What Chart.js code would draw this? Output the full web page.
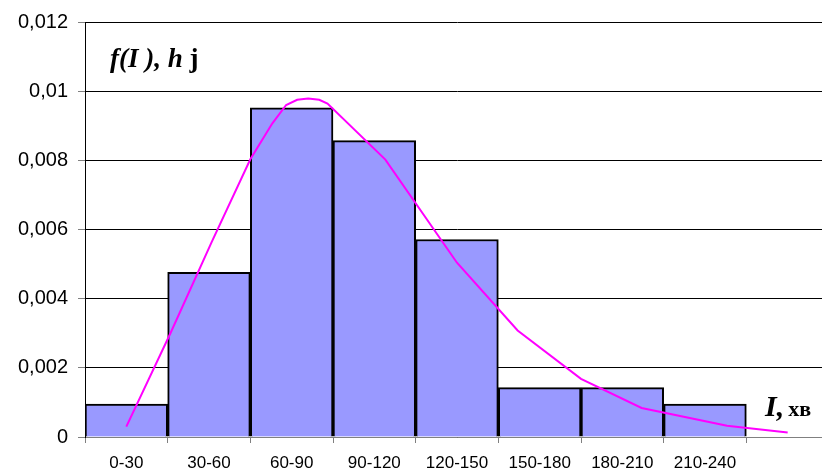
<!DOCTYPE html>
<html><head><meta charset="utf-8">
<script src="https://cdn.jsdelivr.net/npm/chart.js@4.4.0/dist/chart.umd.min.js"></script>
<style>
html,body{margin:0;padding:0;background:#fff;overflow:hidden;width:822px;height:474px}
#wrap{position:absolute;left:0;top:0;width:829px;height:474px}
</style>
</head><body><div id="wrap"><canvas id="c" width="829" height="474"></canvas></div>
<script>
const categories = ['0-30','30-60','60-90','90-120','120-150','150-180','180-210','210-240',''];
const barValues = [0.000952, 0.00476, 0.00952, 0.00857, 0.00571, 0.00143, 0.00143, 0.000952, null];
const curveX = [15, 31, 46, 60, 68, 73, 77, 81, 85, 88, 109, 135, 157, 180, 202, 233, 255];
const curveY = [0.0003, 0.0030, 0.00564, 0.00803, 0.00907, 0.0096, 0.00975, 0.00979, 0.00975, 0.00964, 0.00802, 0.00504, 0.00308, 0.00168, 0.00084, 0.000325, 0.000132];
const yTicks = [0, 0.002, 0.004, 0.006, 0.008, 0.01, 0.012];
const yTitle = ['f(I ), h', 'j'];
const xTitle = ['I,', 'хв'];

const curveData = curveX.map((x, i) => ({x: x, y: curveY[i]}));

const textPlugin = {
  id: 'axisTexts',
  afterDraw(chart) {
    const ctx = chart.ctx, a = chart.chartArea;
    ctx.save();
    ctx.fillStyle = '#000';
    ctx.textBaseline = 'alphabetic';
    ctx.textAlign = 'left';
    let x = a.left + 25, y = a.top + 45;
    ctx.font = "italic bold 27px 'Liberation Serif'";
    ctx.fillText(yTitle[0], x, y);
    x += ctx.measureText(yTitle[0] + ' ').width;
    ctx.font = "bold 27px 'Liberation Serif'";
    ctx.fillText(yTitle[1], x, y);

    x = a.left + 680; y = a.bottom - 21;
    ctx.font = "italic bold 30px 'Liberation Serif'";
    ctx.fillText(xTitle[0], x, y);
    x += ctx.measureText(xTitle[0]).width + 4;
    ctx.font = "bold 22px 'Liberation Serif'";
    ctx.fillText(xTitle[1], x, y);
    ctx.restore();
  }
};

new Chart(document.getElementById('c'), {
  type: 'bar',
  data: {
    labels: categories,
    datasets: [
      {
        type: 'line',
        data: curveData,
        xAxisID: 'xl',
        yAxisID: 'y',
        borderColor: '#FF00FF',
        borderWidth: 2,
        pointRadius: 0,
        tension: 0,
        fill: false,
        order: 0
      },
      {
        type: 'bar',
        data: barValues,
        xAxisID: 'x',
        yAxisID: 'y',
        backgroundColor: '#9999FF',
        borderColor: '#000000',
        borderWidth: 2,
        categoryPercentage: 1,
        barPercentage: 1,
        grouped: false,
        order: 1
      }
    ]
  },
  options: {
    responsive: false,
    animation: false,
    layout: {padding: {top: 19.5, right: 0, left: 0, bottom: 0}},
    plugins: {legend: {display: false}, tooltip: {enabled: false}},
    scales: {
      x: {
        type: 'category',
        position: 'bottom',
        offset: true,
        grid: {display: true, offset: true, drawOnChartArea: false, drawTicks: true, tickLength: 6, color: '#808080'},
        border: {display: true, color: '#808080', width: 1},
        ticks: {color: '#000', font: {family: "'Liberation Sans', Arial", size: 17}, padding: 10, maxRotation: 0, autoSkip: false},
        afterFit(s) { s.height = 37; }
      },
      xl: {
        type: 'linear',
        display: false,
        min: 0,
        max: 270,
        offset: false
      },
      y: {
        min: 0,
        max: 0.012,
        afterBuildTicks(s) { s.ticks = yTicks.map(v => ({value: v})); },
        grid: {color: '#000', lineWidth: 1, tickLength: 7, tickColor: '#808080', drawTicks: true},
        border: {display: true, color: '#000', width: 1},
        ticks: {
          color: '#000',
          font: {family: "'Liberation Sans', Arial", size: 20},
          padding: 10,
          callback(v) { return Number(Number(v).toFixed(3)).toString().replace('.', ','); }
        },
        afterFit(s) { s.width = 85; }
      }
    }
  },
  plugins: [textPlugin]
});
</script>
</body></html>
